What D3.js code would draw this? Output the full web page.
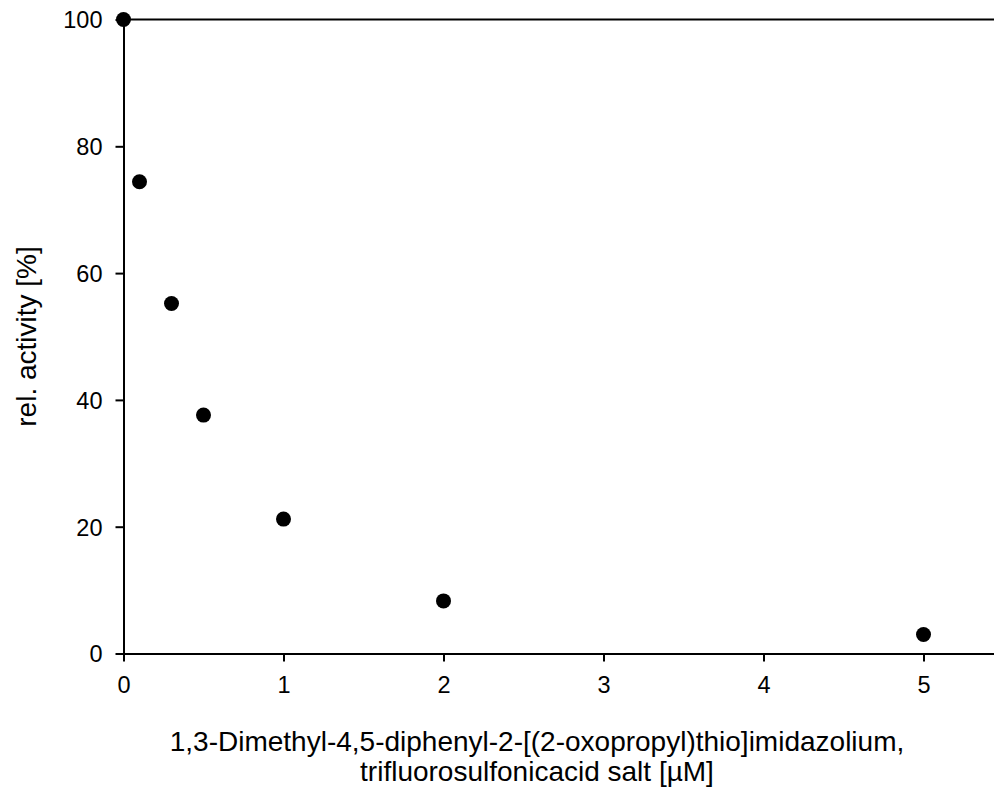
<!DOCTYPE html>
<meta charset="utf-8">
<script src="https://d3js.org/d3.v7.min.js"></script>
<style>
  body { margin: 0; background: #fff; }
  svg { display: block; }
</style>
<body>
<div id="chart"></div>
<script>
// data
var concentration = [0, 0.1, 0.3, 0.5, 1, 2, 5]
var activity = [100, 74.4, 55.2, 37.6, 21.2, 8.3, 3.0]
var xTicks = [0, 1, 2, 3, 4, 5]
var yTicks = [0, 20, 40, 60, 80, 100]
var xTitle = ["1,3-Dimethyl-4,5-diphenyl-2-[(2-oxopropyl)thio]imidazolium,",
              "trifluorosulfonicacid salt [\u00b5M]"]
var yTitle = "rel. activity [%]"

var width = 994, height = 791
var mLeft = 123.5, mTop = 19.5, mBottom = 653.5

var svg = d3.select("#chart").append("svg")
    .attr("width", width)
    .attr("height", height)
    .style("font-family", "'Liberation Sans', Arial, sans-serif")

var x = d3.scaleLinear().domain([0, 5.5]).range([mLeft, mLeft + 5.5 * 160])
var y = d3.scaleLinear().domain([0, 100]).range([mBottom, mTop])

// top frame line
svg.append("line")
    .attr("x1", x(0)).attr("x2", x(5.5))
    .attr("y1", y(100)).attr("y2", y(100))
    .attr("stroke", "#000").attr("stroke-width", 2)

var xAxis = svg.append("g")
    .attr("transform", "translate(0," + mBottom + ")")
    .call(d3.axisBottom(x).tickValues(xTicks).tickFormat(d3.format("d"))
      .tickSizeInner(8).tickSizeOuter(0).tickPadding(15))

var yAxis = svg.append("g")
    .attr("transform", "translate(" + mLeft + ",0)")
    .call(d3.axisLeft(y).tickValues(yTicks).tickFormat(d3.format("d"))
      .tickSizeInner(8).tickSizeOuter(0).tickPadding(13))

;[xAxis, yAxis].forEach(function(g) {
  g.attr("font-family", null).attr("font-size", null)
  g.select(".domain").attr("stroke", "#000").attr("stroke-width", 2)
  g.selectAll(".tick line").attr("stroke", "#000").attr("stroke-width", 2)
  g.selectAll(".tick text").attr("fill", "#000").style("font-size", "23.5px")
})
yAxis.selectAll(".tick text").attr("dy", "0.36em")

// points
svg.selectAll("circle.pt")
  .data(concentration)
  .enter()
  .append("circle")
    .attr("class", "pt")
    .attr("cx", function(d) { return x(d) })
    .attr("cy", function(d, i) { return y(activity[i]) })
    .attr("r", 7.5)
    .attr("fill", "#000")

// axis titles
svg.append("text")
    .attr("text-anchor", "middle")
    .style("font-size", "28px")
  .selectAll("tspan")
  .data(xTitle)
  .enter()
  .append("tspan")
    .attr("x", 537)
    .attr("y", function(d, i) { return 751 + i * 30 })
    .text(function(d) { return d })

svg.append("text")
    .attr("transform", "translate(36," + ((mTop + mBottom) / 2) + ") rotate(-90)")
    .attr("text-anchor", "middle")
    .style("font-size", "28px")
    .text(yTitle)
</script>
</body>
